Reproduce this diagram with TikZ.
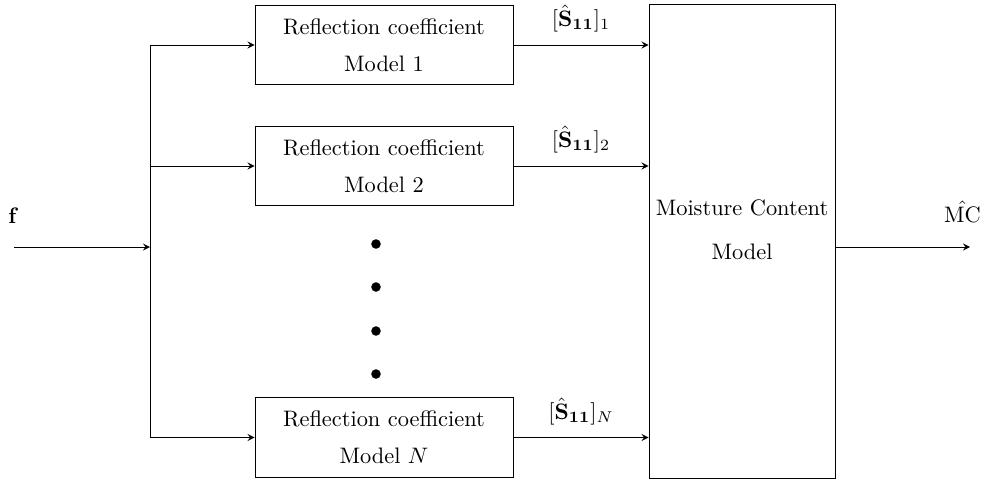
\documentclass[tikz,border=0pt]{standalone}
\usepackage{amsmath}
\usepackage{amssymb}
\usepackage{tikz}
\usetikzlibrary{arrows, positioning}
\tikzset{
  coefmodel/.style={rectangle, draw, minimum width=4.05cm, minimum height=1.25cm,
    align=center, font=\fontsize{10pt}{16.5pt}\selectfont},
  mcmodel/.style={rectangle, draw, minimum width=2.92cm, minimum height=7.43cm},
  arrow/.style={->,>=stealth}
}

\begin{document}
\begin{tikzpicture}[
    x=0.0157cm, y=-0.0157cm,
    lbl/.style={above=0.16cm, inner sep=1pt},
    dot/.style={circle, fill, inner sep=0pt, minimum size=0.15cm},
]
\useasboundingbox (0,0) rectangle (993,480);

\node (m1) [coefmodel] at (384,45)    {Reflection coefficient\\ Model 1};
\node (m2) [coefmodel] at (384,166)   {Reflection coefficient\\ Model 2};
\node (mN) [coefmodel] at (384,437.5) {Reflection coefficient\\ Model $N$};
\node (mc) [mcmodel]   at (742,241.5) {};
\node (mctext) [align=center, font=\fontsize{10pt}{19.5pt}\selectfont]
      at ([yshift=0.18cm]mc.center) {Moisture Content\\ Model};

\coordinate (in)    at (14,247);
\coordinate (split) at (150,247);
\coordinate (out)   at (970,247);

\node (f)  [anchor=south west, inner sep=0pt] at (8,224) {$\mathbf{f}$};
\node (mch) [above=0.38cm of out, xshift=-0.12cm, inner sep=0pt] {$\hat{\mathrm{MC}}$};

% dots between Model 2 and Model N
\foreach \y in {244,287,331,374}
  \node [dot] at (376,\y) {};

\draw[arrow] (in) -- (split);
\draw (split |- m1.west) -- (split |- mN.west);
\draw[arrow] (split |- m1.west) -- (m1.west);
\draw[arrow] (split |- m2.west) -- (m2.west);
\draw[arrow] (split |- mN.west) -- (mN.west);

\draw[arrow] (m1.east) -- node[lbl] {$[\hat{\mathbf{S}}_{\mathbf{11}}]_1$} (mc.west |- m1.east);
\draw[arrow] (m2.east) -- node[lbl] {$[\hat{\mathbf{S}}_{\mathbf{11}}]_2$} (mc.west |- m2.east);
\draw[arrow] (mN.east) -- node[lbl] {$[\hat{\mathbf{S}}_{\mathbf{11}}]_N$} (mc.west |- mN.east);

\draw[arrow] (mc.east |- out) -- (out);
\end{tikzpicture}
\end{document}
